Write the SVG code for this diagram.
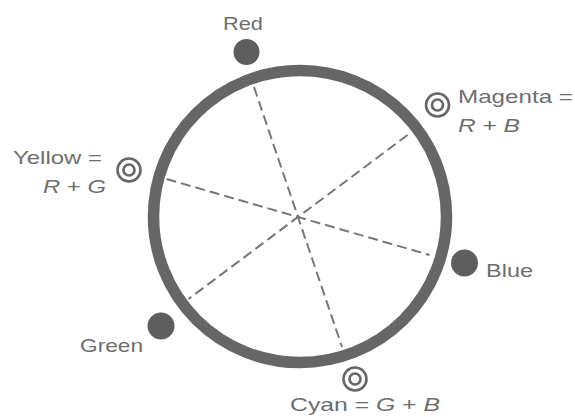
<svg xmlns="http://www.w3.org/2000/svg" width="575" height="417" viewBox="0 0 575 417">
<style>
.lbl{font-family:"Liberation Sans",Arial,sans-serif;font-size:19px;fill:#6e6e6e}
.it{font-style:italic}
.dot{fill:#5e5e5e}
.sym{fill:none;stroke:#666;stroke-width:2.6}
.dash{stroke:#777;stroke-width:2;stroke-dasharray:10 5;fill:none}
</style>
<rect width="575" height="417" fill="#fff"/>
<g id="wheel">
<ellipse cx="300" cy="216.5" rx="146.5" ry="146" fill="none" stroke="#666" stroke-width="11.5"/>
</g>
<g id="connectors">
<line class="dash" x1="254" y1="87" x2="342" y2="347"/>
<line class="dash" x1="166.5" y1="179" x2="429.5" y2="255"/>
<line class="dash" x1="407.5" y1="135" x2="188.5" y2="299"/>
</g>
<g id="red">
<circle class="dot" cx="246.5" cy="52" r="13"/>
<text class="lbl" x="223" y="30" textLength="40" lengthAdjust="spacingAndGlyphs">Red</text>
</g>
<g id="magenta">
<circle class="sym" cx="437.5" cy="105" r="11.5"/>
<circle class="sym" cx="437.5" cy="105" r="5.5"/>
<text class="lbl" x="458" y="103" textLength="115" lengthAdjust="spacingAndGlyphs">Magenta =</text>
<text class="lbl" x="458" y="132" textLength="62" lengthAdjust="spacingAndGlyphs"><tspan class="it">R</tspan> + <tspan class="it">B</tspan></text>
</g>
<g id="yellow">
<circle class="sym" cx="129" cy="170" r="11.5"/>
<circle class="sym" cx="129" cy="170" r="5.5"/>
<text class="lbl" x="13" y="164" textLength="89" lengthAdjust="spacingAndGlyphs">Yellow =</text>
<text class="lbl" x="43" y="193" textLength="63" lengthAdjust="spacingAndGlyphs"><tspan class="it">R</tspan> + <tspan class="it">G</tspan></text>
</g>
<g id="blue">
<circle class="dot" cx="464.5" cy="263" r="13.5"/>
<text class="lbl" x="486" y="277" textLength="47" lengthAdjust="spacingAndGlyphs">Blue</text>
</g>
<g id="green">
<circle class="dot" cx="161" cy="326" r="13.5"/>
<text class="lbl" x="80" y="352" textLength="63" lengthAdjust="spacingAndGlyphs">Green</text>
</g>
<g id="cyan">
<circle class="sym" cx="355" cy="379" r="11.5"/>
<circle class="sym" cx="355" cy="379" r="5.5"/>
<text class="lbl" x="290" y="411" textLength="150" lengthAdjust="spacingAndGlyphs">Cyan = <tspan class="it">G</tspan> + <tspan class="it">B</tspan></text>
</g>
</svg>
